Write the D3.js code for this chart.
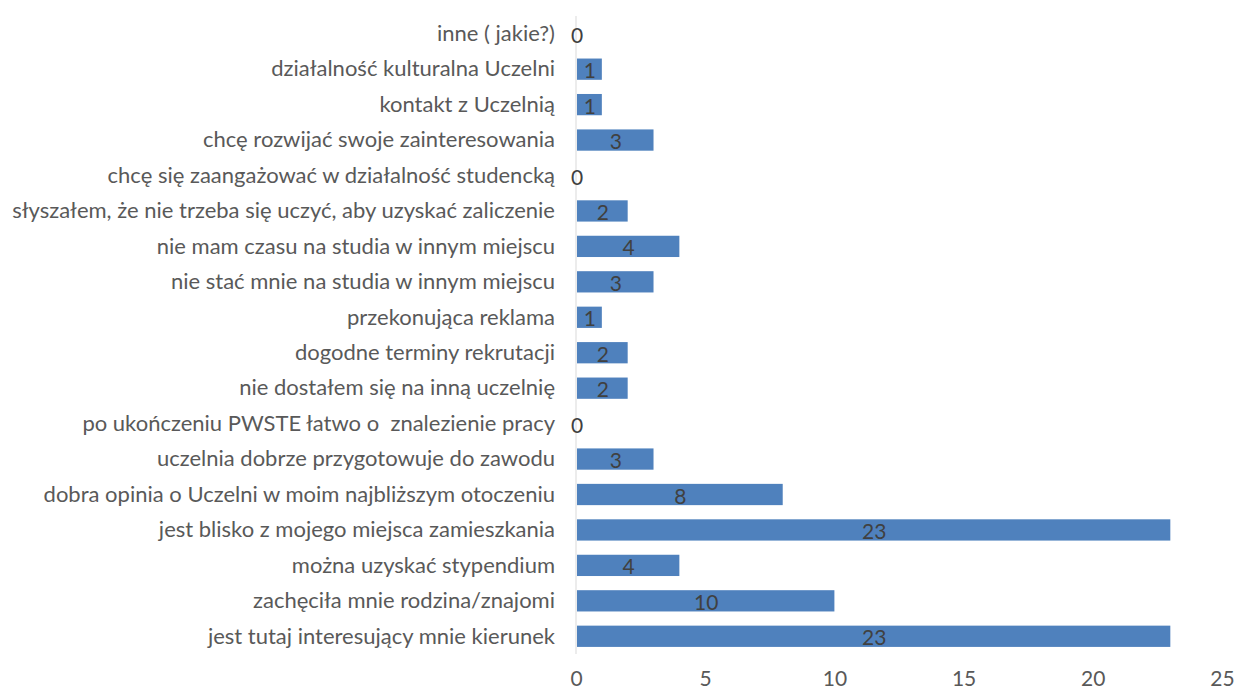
<!DOCTYPE html>
<html>
<head>
<meta charset="utf-8" />
<title>Powody wyboru Uczelni</title>
<style type="text/css">
body{
	margin:0;
	background:#ffffff;
	font-family:"Lato","Open Sans",sans-serif;
}
</style>
<script src="https://d3js.org/d3.v7.min.js"></script>
</head>
<body>
<div id="chart"></div>
<script>
	// kategorie od dołu do góry, tak jak na wykresie
	var categories = [
		"jest tutaj interesujący mnie kierunek",
		"zachęciła mnie rodzina/znajomi",
		"można uzyskać stypendium",
		"jest blisko z mojego miejsca zamieszkania",
		"dobra opinia o Uczelni w moim najbliższym otoczeniu",
		"uczelnia dobrze przygotowuje do zawodu",
		"po ukończeniu PWSTE łatwo o  znalezienie pracy",
		"nie dostałem się na inną uczelnię",
		"dogodne terminy rekrutacji",
		"przekonująca reklama",
		"nie stać mnie na studia w innym miejscu",
		"nie mam czasu na studia w innym miejscu",
		"słyszałem, że nie trzeba się uczyć, aby uzyskać zaliczenie",
		"chcę się zaangażować w działalność studencką",
		"chcę rozwijać swoje zainteresowania",
		"kontakt z Uczelnią",
		"działalność kulturalna Uczelni",
		"inne ( jakie?)"
	];
	var values = [23, 10, 4, 23, 8, 3, 0, 2, 2, 1, 3, 4, 2, 0, 3, 1, 1, 0];
	var xTicks = [0, 5, 10, 15, 20, 25];

	var width = 1236, height = 695;
	var x0 = 576, x1 = 1222;
	var yTop = 16, yBottom = 654;

	var svg = d3.select("#chart")
		.append("svg")
		.attr("width", width)
		.attr("height", height);

	var x = d3.scaleLinear().domain([0, 25]).range([x0, x1]);
	var y = d3.scaleBand()
		.domain(categories.slice().reverse())
		.range([yTop, yBottom])
		.paddingInner(0.4)
		.paddingOuter(0.2);

	//słupki
	svg.selectAll("rect.bar")
		.data(categories)
		.enter()
		.append("rect")
		.attr("class", "bar")
		.attr("x", x(0) + 1)
		.attr("y", function(d){ return y(d); })
		.attr("width", function(d, i){ return Math.max(0, x(values[i]) - x(0) - 1); })
		.attr("height", y.bandwidth())
		.attr("fill", "#4f81bd");

	//oś pionowa
	svg.append("line")
		.attr("x1", x0)
		.attr("x2", x0)
		.attr("y1", yTop)
		.attr("y2", yBottom)
		.attr("stroke", "#d9d9d9")
		.attr("stroke-width", 1);

	//etykiety kategorii
	svg.selectAll("text.cat")
		.data(categories)
		.enter()
		.append("text")
		.attr("class", "cat")
		.attr("x", 555)
		.attr("y", function(d){ return y(d) + y.bandwidth() / 2; })
		.attr("dy", "0.33em")
		.attr("text-anchor", "end")
		.attr("font-size", 22)
		.attr("fill", "#595959")
		.style("white-space", "pre")
		.text(function(d){ return d; });

	//wartości
	svg.selectAll("text.val")
		.data(categories)
		.enter()
		.append("text")
		.attr("class", "val")
		.attr("x", function(d, i){ return (x(0) + x(values[i])) / 2 + 1; })
		.attr("y", function(d){ return y(d) + y.bandwidth() / 2; })
		.attr("dy", "0.43em")
		.attr("text-anchor", "middle")
		.attr("font-size", 21)
		.attr("fill", "#404040")
		.text(function(d, i){ return values[i]; });

	//oś X
	var xAxis = d3.axisBottom(x).tickValues(xTicks).tickSize(0).tickPadding(0);
	var gx = svg.append("g")
		.attr("transform", "translate(0," + 671 + ")")
		.call(xAxis);
	gx.select(".domain").remove();
	gx.selectAll("text")
		.attr("font-family", "Lato, 'Open Sans', sans-serif")
		.attr("font-size", 21)
		.attr("fill", "#595959");
</script>
</body>
</html>
